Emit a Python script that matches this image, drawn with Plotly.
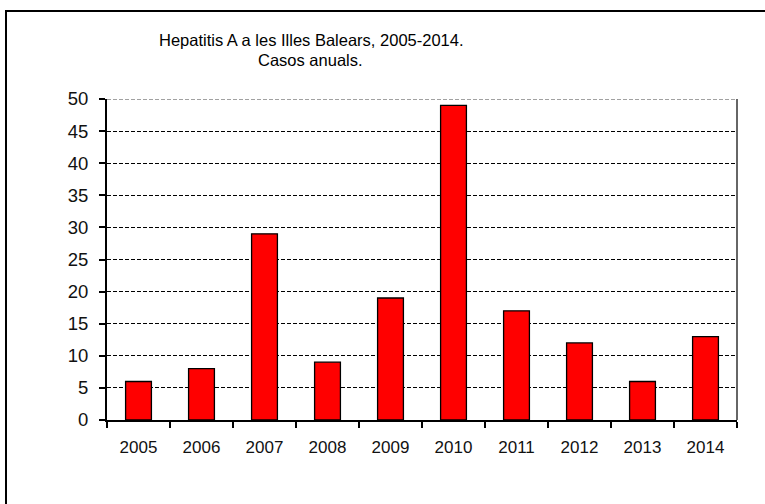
import plotly.graph_objects as go

years = ["2005", "2006", "2007", "2008", "2009", "2010", "2011", "2012", "2013", "2014"]
cases = [6, 8, 29, 9, 19, 49, 17, 12, 6, 13]
y_ticks = [0, 5, 10, 15, 20, 25, 30, 35, 40, 45, 50]
title_line1 = "Hepatitis A a les Illes Balears, 2005-2014."
title_line2 = "Casos anuals."

W, H = 765, 504
L, R, T, B = 107, 28, 99, 84
pw, ph = W - L - R, H - T - B

def px(x):
    return (x - L) / pw

def py(y):
    return (H - B - y) / ph

fig = go.Figure(go.Bar(
    x=years, y=cases,
    marker=dict(color="#ff0000", line=dict(color="#000000", width=1.3)),
))

fig.update_layout(
    width=W, height=H,
    margin=dict(l=L, r=R, t=T, b=B),
    paper_bgcolor="white", plot_bgcolor="white",
    bargap=0.59,
    showlegend=False,
    font=dict(family="Liberation Sans, Arial, sans-serif", color="#000000"),
)

fig.update_xaxes(
    type="category",
    showline=True, linecolor="#000000", linewidth=2,
    ticks="outside", tickson="boundaries", ticklen=6, tickcolor="#000000", tickwidth=1.5,
    tickfont=dict(size=17, color="#111111"),
    ticklabelstandoff=11,
    showgrid=False, zeroline=False,
)
fig.update_yaxes(
    range=[0, 50], tickvals=y_ticks,
    showline=True, linecolor="#000000", linewidth=2,
    ticks="outside", ticklen=6, tickcolor="#000000", tickwidth=1.5,
    tickfont=dict(size=18.5, color="#111111"),
    ticklabelstandoff=7,
    showgrid=True, gridcolor="#000000", gridwidth=1, griddash="4px,2px",
    zeroline=False,
)

# top gridline (at the highest tick) and right border of plot area
fig.add_shape(type="line", xref="paper", yref="y", x0=0, x1=1, y0=y_ticks[-1], y1=y_ticks[-1],
              line=dict(color="#444444", width=1, dash="4px,2px"))
fig.add_shape(type="line", xref="paper", yref="paper", x0=1, x1=1, y0=0, y1=1,
              line=dict(color="#333333", width=1.5))
# outer chart frame
fig.add_shape(type="rect", xref="paper", yref="paper",
              x0=px(6), x1=px(790), y0=py(530), y1=py(11),
              line=dict(color="#000000", width=2), fillcolor="rgba(0,0,0,0)")

fig.add_annotation(text=title_line1, xref="paper", yref="paper", x=px(311), y=py(40),
                   showarrow=False, font=dict(size=16.5, color="#000000"), xanchor="center", yanchor="middle")
fig.add_annotation(text=title_line2, xref="paper", yref="paper", x=px(310), y=py(60),
                   showarrow=False, font=dict(size=16.5, color="#000000"), xanchor="center", yanchor="middle")

fig.write_html("out.html", config={"displayModeBar": False},
               post_script="document.body.style.margin='0';document.body.style.padding='0';")
